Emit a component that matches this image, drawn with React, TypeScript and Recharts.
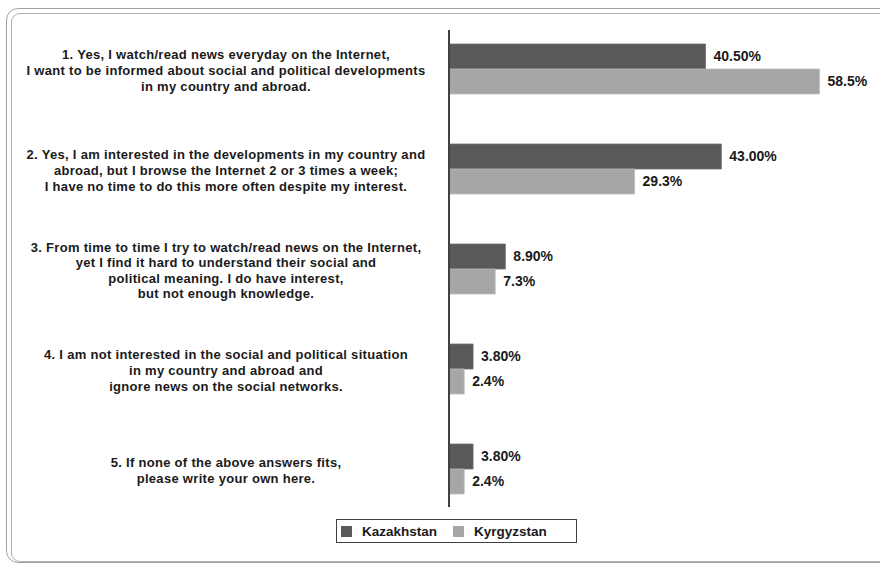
import { BarChart, Bar, XAxis, YAxis, LabelList, Legend } from "recharts";

const questions = [
  "1. Yes, I watch/read news everyday on the Internet,\nI want to be informed about social and political developments\nin my country and abroad.",
  "2. Yes, I am interested in the developments in my country and\nabroad, but I browse the Internet 2 or 3 times a week;\nI have no time to do this more often despite my interest.",
  "3. From time to time I try to watch/read news on the Internet,\nyet I find it hard to understand their social and\npolitical meaning. I do have interest,\nbut not enough knowledge.",
  "4. I am not interested in the social and political situation\nin my country and abroad and\nignore news on the social networks.",
  "5. If none of the above answers fits,\nplease write your own here.",
];

const kazakhstan = [40.5, 43.0, 8.9, 3.8, 3.8];
const kyrgyzstan = [58.5, 29.3, 7.3, 2.4, 2.4];

const chartData = questions.map((q, i) => ({
  question: q,
  kazakhstan: kazakhstan[i],
  kyrgyzstan: kyrgyzstan[i],
}));

const KAZ_COLOR = "#595959";
const KYR_COLOR = "#a6a6a6";
const TEXT_COLOR = "#1a1a1a";
const FONT = "'Liberation Sans', Arial, sans-serif";

// multi-line centered question labels left of the axis
const QuestionTick = ({ x, y, payload }: any) => {
  const lines = String(payload.value).split("\n");
  const lineHeight = 15.6;
  const start = -((lines.length - 1) / 2) * lineHeight + 2;
  return (
    <text
      x={x - 223}
      y={y}
      textAnchor="middle"
      fontFamily={FONT}
      fontWeight="bold"
      fontSize={13}
      letterSpacing={0.3}
      fill={TEXT_COLOR}
    >
      {lines.map((line, i) => (
        <tspan key={i} x={x - 223} dy={i === 0 ? start + 4 : lineHeight}>
          {line}
        </tspan>
      ))}
    </text>
  );
};

const LegendBox = () => (
  <div
    style={{
      border: "1.5px solid #404040",
      height: 24,
      display: "flex",
      alignItems: "center",
      fontFamily: FONT,
      fontWeight: "bold",
      fontSize: 13.5,
      color: TEXT_COLOR,
      boxSizing: "border-box",
      paddingLeft: 4,
    }}
  >
    <span style={{ width: 11, height: 11, background: KAZ_COLOR, display: "inline-block", marginRight: 10 }} />
    <span style={{ marginRight: 16 }}>Kazakhstan</span>
    <span style={{ width: 11, height: 11, background: KYR_COLOR, display: "inline-block", marginRight: 10 }} />
    <span>Kyrgyzstan</span>
  </div>
);

const labelStyle = { fontFamily: FONT, fontWeight: "bold", fontSize: 14, fill: TEXT_COLOR };

export default function App() {
  return (
    <div style={{ position: "absolute", left: 0, top: 0, width: 880, height: 565, background: "#fff", overflow: "hidden" }}>
      {/* rounded double frame, running off the right edge */}
      <div
        style={{
          position: "absolute",
          left: 6,
          top: 8,
          width: 900,
          height: 555,
          border: "1.5px solid #a0a0a0",
          borderRadius: 12,
          boxSizing: "border-box",
        }}
      />
      <div
        style={{
          position: "absolute",
          left: 11,
          top: 13,
          width: 890,
          height: 549,
          border: "1.5px solid #b0b0b0",
          borderRadius: 9,
          boxSizing: "border-box",
        }}
      />
      <div style={{ position: "absolute", left: 0, top: 0 }}>
        <BarChart
          width={880}
          height={565}
          data={chartData}
          layout="vertical"
          margin={{ top: 19, right: 51, bottom: 21, left: 0 }}
          barGap={0}
        >
          <XAxis type="number" domain={[0, 60]} hide />
          <YAxis
            type="category"
            dataKey="question"
            width={449}
            tickSize={0}
            tickMargin={0}
            tickLine={false}
            axisLine={{ stroke: "#404040", strokeWidth: 2, strokeDasharray: "0 11 477 20" }}
            tick={<QuestionTick />}
            interval={0}
          />
          <Legend
            content={<LegendBox />}
            wrapperStyle={{ left: 336, top: 519, width: 241, height: 25 }}
          />
          <Bar
            dataKey="kazakhstan"
            name="Kazakhstan"
            fill={KAZ_COLOR}
            stroke="#6e6e6e"
            strokeWidth={0.8}
            barSize={25}
            isAnimationActive={false}
          >
            <LabelList
              dataKey="kazakhstan"
              position="right"
              offset={8}
              formatter={(v: any) => `${Number(v).toFixed(2)}%`}
              style={labelStyle}
            />
          </Bar>
          <Bar
            dataKey="kyrgyzstan"
            name="Kyrgyzstan"
            fill={KYR_COLOR}
            stroke="#bdbdbd"
            strokeWidth={0.8}
            barSize={25}
            isAnimationActive={false}
          >
            <LabelList
              dataKey="kyrgyzstan"
              position="right"
              offset={8}
              formatter={(v: any) => `${Number(v).toFixed(1)}%`}
              style={labelStyle}
            />
          </Bar>
        </BarChart>
      </div>
    </div>
  );
}
